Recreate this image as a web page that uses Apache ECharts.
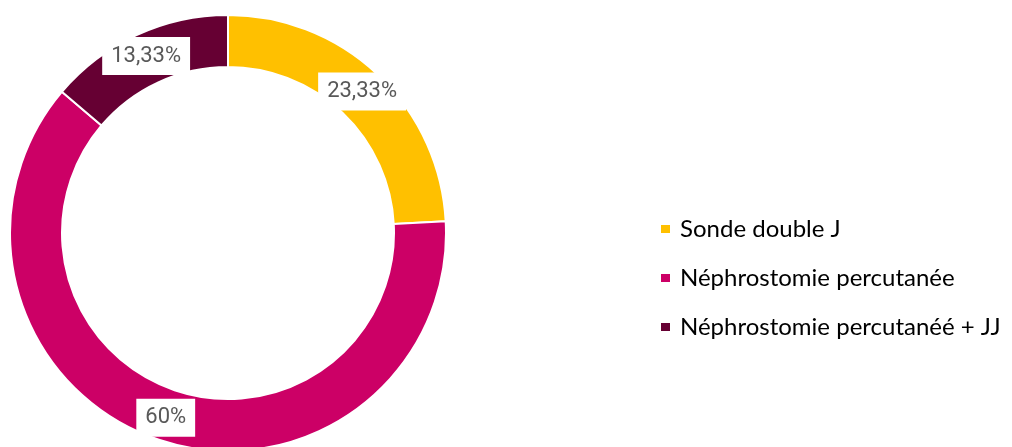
<!DOCTYPE html>
<html>
<head>
<meta charset="utf-8">
<script src="https://cdn.jsdelivr.net/npm/echarts@6/dist/echarts.min.js"></script>
<style>
  html, body { margin: 0; padding: 0; background: #ffffff; }
  #chart { width: 1012px; height: 447px; }
</style>
</head>
<body>
<div id="chart"></div>
<script>
// Types de drainage (pourcentage des patients)
const categories = ['Sonde double J', 'Néphrostomie percutanée', 'Néphrostomie percutanéé + JJ'];
const percents = [23.33, 60, 13.33];
const colors = ['#FFC000', '#CC0066', '#660033'];

const fmtPct = v => String(v).replace('.', ',') + '%';

const chart = echarts.init(document.getElementById('chart'), null, { renderer: 'canvas' });
chart.setOption({
  animation: false,
  color: colors,
  legend: {
    orient: 'vertical',
    left: 654,
    top: 212,
    icon: 'rect',
    itemWidth: 11,
    itemHeight: 10,
    itemGap: 25,
    textStyle: {
      fontFamily: 'Lato',
      fontSize: 24,
      lineHeight: 24,
      color: '#000000',
      padding: [0, 0, 0, 4]
    },
    data: categories
  },
  series: [{
    type: 'pie',
    center: [228, 233],
    radius: [166, 218],
    startAngle: 90,
    clockwise: true,
    avoidLabelOverlap: false,
    itemStyle: { borderColor: '#ffffff', borderWidth: 2 },
    label: {
      show: true,
      position: 'inside',
      formatter: p => fmtPct(p.value),
      fontFamily: 'Roboto',
      fontSize: 22,
      color: '#595959',
      backgroundColor: '#ffffff',
      padding: [8, 9, 8, 9]
    },
    labelLine: { show: false },
    emphasis: { disabled: true },
    data: categories.map((name, i) => ({ name, value: percents[i] }))
  }]
});
</script>
</body>
</html>
